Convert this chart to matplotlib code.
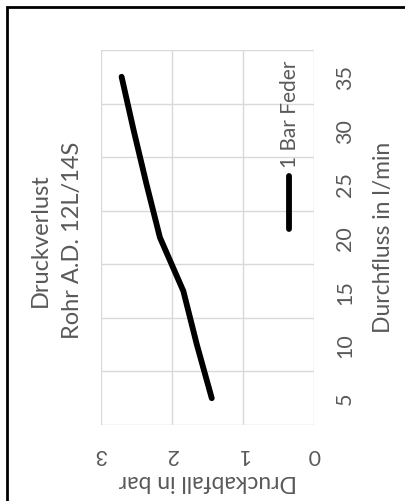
import numpy as np
import matplotlib.pyplot as plt
from matplotlib.lines import Line2D
from matplotlib.patches import Rectangle

# data (chart is an Excel line chart turned 90 degrees)
durchfluss = [5, 10, 15, 20, 25, 30, 35]
druckabfall = [1.44, 1.65, 1.84, 2.17, 2.36, 2.54, 2.71]
druck_ticks = [0, 1, 2, 3]
serie_name = "1 Bar Feder"
titel = ["Druckverlust", "Rohr A.D. 12L/14S"]
x_titel = "Durchfluss in l/min"
y_titel = "Druckabfall in bar"

grau = '#595959'
gitter = '#d9d9d9'
plt.rcParams['font.family'] = ['Lato', 'DejaVu Sans']

fig = plt.figure(figsize=(4.06, 5.02), dpi=100)
ax = fig.add_axes([101/406, 76/502, 213/406, 375/502])

#categories along the vertical, pressure along the horizontal (reversed)
idx = np.arange(len(durchfluss))
ax.plot(druckabfall, idx, color='black', lw=4.2, solid_capstyle='round', solid_joinstyle='round')

ax.set_xlim(3, 0)
ax.set_ylim(-0.5, len(durchfluss) - 0.5)

#gridlines
for p in druck_ticks:
    ax.axvline(p, color=gitter, lw=1, zorder=0)
for k in np.arange(-0.5, len(durchfluss), 1.0):
    ax.axhline(k, color=gitter, lw=1, zorder=0)
for s in ax.spines.values():
    s.set_visible(False)
ax.set_xticks([])
ax.set_yticks([])

#tick labels, rotated like the picture
tr_y = ax.get_yaxis_transform()
for i, f in zip(idx, durchfluss):
    ax.text(1.146, i, str(f), transform=tr_y, rotation=90, ha='center', va='center',
            fontsize=15.5, color=grau)
tr_x = ax.get_xaxis_transform()
for p in druck_ticks:
    ax.text(p, -0.077, str(p), transform=tr_x, rotation=180, ha='center', va='center',
            fontsize=15.5, color=grau)

#axis titles
ax.text(1.324, 0.504, x_titel, transform=ax.transAxes, rotation=90, ha='center', va='center',
        fontsize=16.5, color=grau)
ax.text(0.5, -0.149, y_titel, transform=ax.transAxes, rotation=180, ha='center', va='center',
        fontsize=16.5, color=grau)

#chart title
ax.text(-0.286, 0.496, titel[0], transform=ax.transAxes, rotation=90, ha='center', va='center',
        fontsize=17, color=grau)
ax.text(-0.136, 0.496, titel[1], transform=ax.transAxes, rotation=90, ha='center', va='center',
        fontsize=17, color=grau)

#legend
ax.add_line(Line2D([0.883, 0.883], [0.523, 0.664], transform=ax.transAxes, color='black',
                   lw=4.2, solid_capstyle='round', clip_on=False))
ax.text(0.886, 0.688, serie_name, transform=ax.transAxes, rotation=90, ha='center', va='bottom',
        fontsize=15, color=grau)

#black frame around the chart
fig.add_artist(Rectangle((7/406, -0.1), 1.2, (502 - 8)/502 + 0.1, transform=fig.transFigure,
                         fill=False, edgecolor='black', lw=2))

fig.savefig('out.png', dpi=100)
